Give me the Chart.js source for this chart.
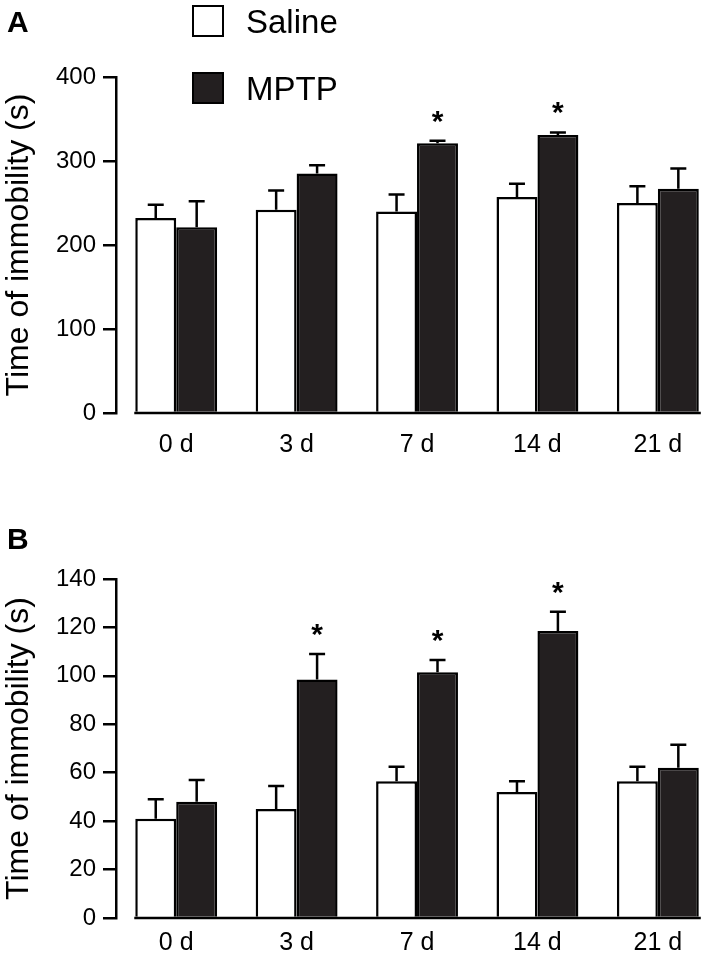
<!DOCTYPE html>
<html>
<head>
<meta charset="utf-8">
<script src="https://cdn.jsdelivr.net/npm/chart.js@4.4.0/dist/chart.umd.min.js"></script>
<style>
  body { margin: 0; background: #fff; font-family: 'Liberation Sans', Arial, sans-serif; }
  #wrap { position: relative; width: 709px; height: 955px; overflow: hidden; }
  canvas { position: absolute; left: 0; }
  .letter { position: absolute; left: 7px; font-weight: bold; font-size: 30px; line-height: 1; }
  .key { position: absolute; left: 192px; width: 28px; height: 28px; border: 2.5px solid #000; }
  .keytxt { position: absolute; left: 246px; font-size: 33px; line-height: 1; }
</style>
</head>
<body>
<div id="wrap">
  <canvas id="chartA" width="709" height="470" style="top:0"></canvas>
  <canvas id="chartB" width="709" height="485" style="top:470px"></canvas>
  <div class="letter" style="top:7px">A</div>
  <div class="letter" style="top:524px">B</div>
  <div class="key" style="top:5px;background:#fff"></div>
  <div class="keytxt" style="top:5px">Saline</div>
  <div class="key" style="top:72px;background:#231f20"></div>
  <div class="keytxt" style="top:72px">MPTP</div>
</div>
<script>
const days = ['0 d', '3 d', '7 d', '14 d', '21 d'];

// panel A
const salineA = [232, 242, 240, 257, 250];
const salineAErr = [16, 23, 20, 16, 20];
const mptpA = [221, 285, 321, 331, 267];
const mptpAErr = [31, 10, 3, 3, 24];
const sigA = [false, false, true, true, false];

// panel B
const salineB = [41, 45, 56.5, 52, 56.5];
const salineBErr = [8, 9.5, 6, 4.5, 6];
const mptpB = [48, 98.5, 101.5, 118.5, 62];
const mptpBErr = [9, 10.5, 5, 8, 9.5];
const sigB = [false, true, true, true, false];

Chart.defaults.font.family = "'Liberation Sans', Arial, sans-serif";
Chart.defaults.color = '#000';

// baseline under the bars only, error bars and asterisks
const errBars = {
  id: 'errBars',
  afterDatasetsDraw(chart) {
    const ctx = chart.ctx;
    const y = chart.scales.y;
    let lo = Infinity, hi = -Infinity;
    chart.data.datasets.forEach((ds, di) => {
      chart.getDatasetMeta(di).data.forEach((bar) => {
        lo = Math.min(lo, bar.x - bar.width / 2);
        hi = Math.max(hi, bar.x + bar.width / 2);
      });
    });
    const base = y.getPixelForValue(0);
    ctx.save();
    ctx.strokeStyle = '#000';
    ctx.lineWidth = 2.5;
    ctx.beginPath();
    ctx.moveTo(lo - 1, base);
    ctx.lineTo(hi + 2, base);
    ctx.stroke();
    ctx.restore();

    chart.data.datasets.forEach((ds, di) => {
      chart.getDatasetMeta(di).data.forEach((bar, i) => {
        const top = y.getPixelForValue(ds.data[i].y + ds.err[i]);
        ctx.save();
        ctx.strokeStyle = '#000';
        ctx.lineWidth = 2.5;
        ctx.beginPath();
        ctx.moveTo(bar.x, bar.y);
        ctx.lineTo(bar.x, top);
        ctx.moveTo(bar.x - 8, top);
        ctx.lineTo(bar.x + 8, top);
        ctx.stroke();
        if (ds.sig && ds.sig[i]) {
          ctx.fillStyle = '#000';
          ctx.font = "bold 30px 'Liberation Sans', Arial";
          ctx.textAlign = 'center';
          ctx.textBaseline = 'alphabetic';
          ctx.fillText('*', bar.x, top - 10);
        }
        ctx.restore();
      });
    });
  }
};

function makeChart(id, saline, salineErr, mptp, mptpErr, sig, yMax, step, topPad, xHeight, xPad) {
  return new Chart(document.getElementById(id), {
    type: 'bar',
    data: {
      datasets: [
        {
          label: 'Saline',
          data: saline.map((v, i) => ({ x: i, y: v })),
          err: salineErr,
          backgroundColor: '#fff',
          borderColor: '#000',
          borderWidth: 2.5
        },
        {
          label: 'MPTP',
          data: mptp.map((v, i) => ({ x: i, y: v })),
          err: mptpErr,
          sig: sig,
          backgroundColor: '#231f20',
          borderColor: '#000',
          borderWidth: 2.5
        }
      ]
    },
    options: {
      responsive: false,
      animation: false,
      categoryPercentage: 0.68,
      barPercentage: 1,
      layout: { padding: { top: topPad, right: 9, left: 0, bottom: 0 } },
      plugins: { legend: { display: false }, tooltip: { enabled: false } },
      scales: {
        x: {
          type: 'linear',
          offset: false,
          min: -0.5,
          max: 4.35,
          afterBuildTicks: (scale) => { scale.ticks = days.map((_, i) => ({ value: i })); },
          afterFit: (scale) => { scale.height = xHeight; },
          grid: { display: false },
          border: { display: false },
          ticks: {
            padding: xPad,
            font: { size: 25 },
            callback: (v) => days[v]
          }
        },
        y: {
          min: 0,
          max: yMax,
          afterFit: (scale) => { scale.width = 116; },
          grid: { drawOnChartArea: false, drawTicks: true, tickLength: 13, color: '#000', lineWidth: 2.5 },
          border: { display: true, color: '#000', width: 2.5 },
          ticks: { stepSize: step, padding: 7, font: { size: 24 } },
          title: {
            display: true,
            text: 'Time of immobility (s)',
            font: { size: 32 },
            padding: 0
          }
        }
      }
    },
    plugins: [errBars]
  });
}

makeChart('chartA', salineA, salineAErr, mptpA, mptpAErr, sigA, 400, 100, 77, 57, 9);
makeChart('chartB', salineB, salineBErr, mptpB, mptpBErr, sigB, 140, 20, 109, 37, 2);
</script>
</body>
</html>
